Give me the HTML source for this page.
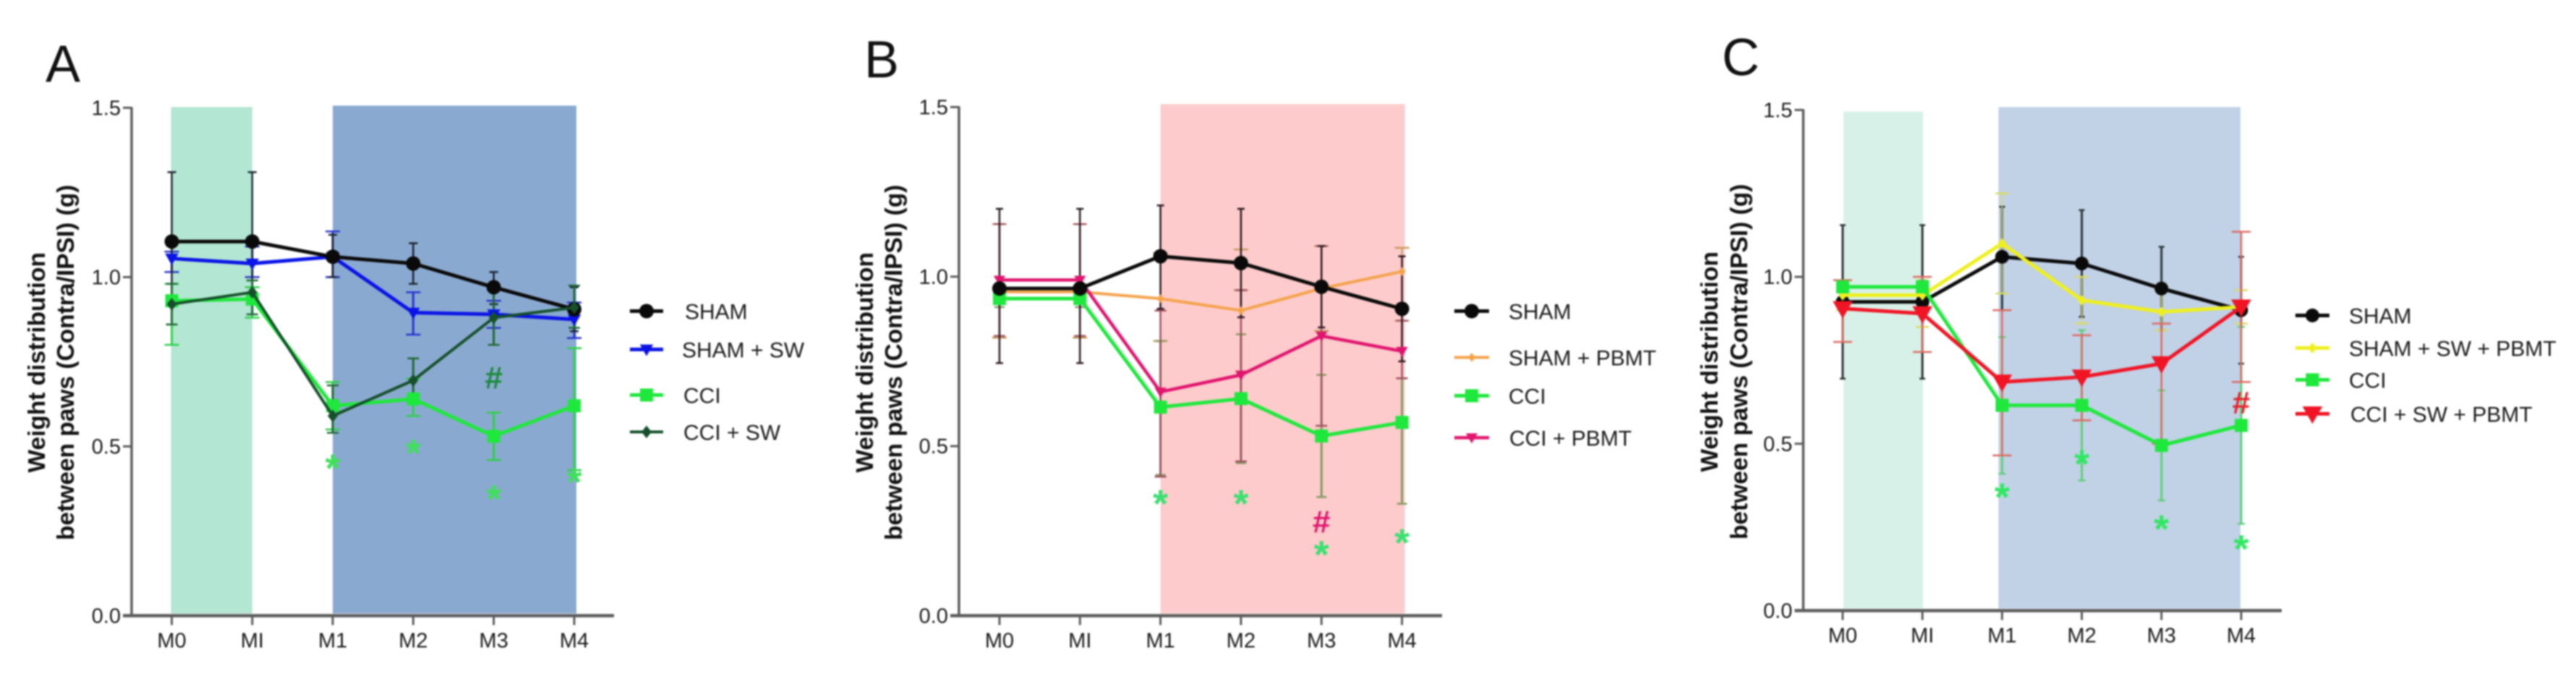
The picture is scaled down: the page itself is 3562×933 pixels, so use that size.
<!DOCTYPE html>
<html lang="en">
<head>
<meta charset="utf-8">
<title>Weight distribution between paws</title>
<style>
html,body{margin:0;padding:0;background:#fff;width:3562px;height:933px;overflow:hidden}
svg{display:block;filter:blur(1.1px)}
text{font-family:"Liberation Sans",Arial,sans-serif;fill:#1a1a1a}
.ytitle{font-size:33.5px;font-weight:bold;text-anchor:middle;fill:#111}
.tick{font-size:29px}
.legend{font-size:30px}
.letter{font-size:72px;fill:#111}
</style>
</head>
<body>
<svg id="figure" xmlns="http://www.w3.org/2000/svg" width="3562" height="933" viewBox="0 0 3562 933">
  <rect width="3562" height="933" fill="#fff"/>
  <g id="panel-a"></g>
  <g id="panel-b"></g>
  <g id="panel-c"></g>

  <text class="letter" x="63" y="113">A</text>
  <text class="letter" x="1195" y="107">B</text>
  <text class="letter" x="2381" y="104">C</text>

  <g>
    <text class="ytitle" transform="translate(62,501) rotate(-90)">Weight distribution</text>
    <text class="ytitle" transform="translate(102,501) rotate(-90)">between paws (Contra/IPSI) (g)</text>
  </g>
  <g>
    <text class="ytitle" transform="translate(1207,501) rotate(-90)">Weight distribution</text>
    <text class="ytitle" transform="translate(1247,501) rotate(-90)">between paws (Contra/IPSI) (g)</text>
  </g>
  <g>
    <text class="ytitle" transform="translate(2375,500) rotate(-90)">Weight distribution</text>
    <text class="ytitle" transform="translate(2416,500) rotate(-90)">between paws (Contra/IPSI) (g)</text>
  </g>
</svg>

<script>
// ---------- shared axis data ----------
const categories = ['M0', 'MI', 'M1', 'M2', 'M3', 'M4'];
const yTickValues = [0, 0.5, 1, 1.5];
const yTickLabels = ['0.0', '0.5', '1.0', '1.5'];

// ---------- panel A ----------
const aShamMean = [1.105, 1.105, 1.06, 1.04, 0.97, 0.905];
const aShamUpper = [1.31, 1.31, 1.125, 1.10, 1.015, 0.97];
const aShamLower = [0.93, 0.93, 1.0, 0.98, 0.92, 0.84];
const aShamSwMean = [1.055, 1.04, 1.06, 0.895, 0.89, 0.875];
const aShamSwUpper = [1.075, 1.09, 1.135, 0.955, 0.93, 0.925];
const aShamSwLower = [1.015, 1.0, 1.0, 0.83, 0.85, 0.82];
const aCciMean = [0.93, 0.935, 0.62, 0.64, 0.53, 0.62];
const aCciUpper = [0.98, 0.97, 0.69, 0.70, 0.60, 0.79];
const aCciLower = [0.80, 0.88, 0.55, 0.59, 0.46, 0.43];
const aCciSwMean = [0.92, 0.955, 0.59, 0.695, 0.88, 0.91];
const aCciSwUpper = [0.98, 0.99, 0.68, 0.76, 0.96, 0.975];
const aCciSwLower = [0.86, 0.89, 0.54, 0.63, 0.80, 0.85];
const aStarValues = [null, null, 0.46, 0.505, 0.37, 0.42];
const aHashValues = [null, null, null, null, 0.705, null];

// ---------- panel B ----------
const bShamMean = [0.965, 0.965, 1.06, 1.04, 0.97, 0.905];
const bShamUpper = [1.2, 1.2, 1.21, 1.2, 1.09, 1.06];
const bShamLower = [0.745, 0.745, 0.905, 0.88, 0.85, 0.75];
const bShamPbmtMean = [0.955, 0.955, 0.935, 0.90, 0.965, 1.015];
const bShamPbmtUpper = [1.155, 1.155, 1.07, 1.08, 1.09, 1.085];
const bShamPbmtLower = [0.82, 0.82, 0.81, 0.96, 0.84, 0.87];
const bCciMean = [0.935, 0.935, 0.615, 0.64, 0.53, 0.57];
const bCciUpper = [0.96, 0.96, 0.81, 0.83, 0.71, 0.70];
const bCciLower = [0.91, 0.91, 0.415, 0.45, 0.35, 0.33];
const bCciPbmtMean = [0.99, 0.99, 0.66, 0.71, 0.825, 0.78];
const bCciPbmtUpper = [1.155, 1.155, 0.90, 0.96, 1.09, 0.87];
const bCciPbmtLower = [0.825, 0.825, 0.41, 0.455, 0.56, 0.70];
const bStarValues = [null, null, 0.355, 0.355, 0.205, 0.24];
const bHashValues = [null, null, null, null, 0.28, null];

// ---------- panel C ----------
const cShamMean = [0.925, 0.925, 1.06, 1.04, 0.965, 0.90];
const cShamUpper = [1.155, 1.155, 1.21, 1.2, 1.09, 1.06];
const cShamLower = [0.695, 0.695, 0.90, 0.88, 0.84, 0.74];
const cYellowMean = [0.945, 0.945, 1.10, 0.93, 0.895, 0.91];
const cYellowUpper = [0.99, 0.99, 1.25, 1.0, 0.96, 0.96];
const cYellowLower = [0.90, 0.85, 0.95, 0.86, 0.84, 0.86];
const cCciMean = [0.97, 0.97, 0.615, 0.615, 0.495, 0.555];
const cCciUpper = [0.99, 0.99, 0.82, 0.84, 0.66, 0.85];
const cCciLower = [0.95, 0.95, 0.41, 0.39, 0.33, 0.26];
const cRedMean = [0.905, 0.89, 0.685, 0.70, 0.74, 0.91];
const cRedUpper = [0.99, 1.0, 0.90, 0.825, 0.86, 1.135];
const cRedLower = [0.805, 0.775, 0.465, 0.57, 0.50, 0.685];
const cStarValues = [null, null, 0.365, 0.465, 0.27, 0.21];
const cHashValues = [null, null, null, null, null, 0.625];

// ---------- series names (legend order) ----------
const aNames = ['SHAM', 'SHAM + SW', 'CCI', 'CCI + SW'];
const bNames = ['SHAM', 'SHAM + PBMT', 'CCI', 'CCI + PBMT'];
const cNames = ['SHAM', 'SHAM + SW + PBMT', 'CCI', 'CCI + SW + PBMT'];

const SVGNS = 'http://www.w3.org/2000/svg';

function el(parent, tag, attrs, name) {
  const node = document.createElementNS(SVGNS, tag);
  for (const k in attrs) node.setAttribute(k, attrs[k]);
  
  
  parent.appendChild(node);
  return node;
}

function drawMarker(parent, kind, cx, cy, s, color, name) {
  if (kind === 'circle') {
    return el(parent, 'circle', {cx: cx, cy: cy, r: s, fill: color}, name);
  }
  let pts;
  if (kind === 'square') pts = [[-s, -s], [s, -s], [s, s], [-s, s]];
  if (kind === 'diamond') pts = [[0, -s * 1.25], [s, 0], [0, s * 1.25], [-s, 0]];
  if (kind === 'triangle') pts = [[-s * 1.15, -s * 0.85], [s * 1.15, -s * 0.85], [0, s * 1.15]];
  return el(parent, 'polygon', {points: pts.map(p => (cx + p[0]) + ',' + (cy + p[1])).join(' '), fill: color}, name);
}

function drawPanel(cfg) {
  const g = document.getElementById(cfg.id);
  const step = (cfg.x4 - cfg.x0) / (categories.length - 1);
  const xScale = i => cfg.x0 + i * step;
  const yScale = v => cfg.yZero - (v / 1.5) * (cfg.yZero - cfg.yTop);

  // shaded treatment windows
  cfg.bands.forEach(b => {
    el(g, 'rect', {
      x: xScale(b.from) + b.padL,
      y: yScale(1.5) - b.over,
      width: xScale(b.to) - xScale(b.from) - b.padL + b.padR,
      height: yScale(0) - yScale(1.5) + b.over - 3,
      fill: b.color
    }, cfg.prefix + '-shaded-window-' + b.tag);
  });

  // error bars beneath the lines
  cfg.series.forEach(s => {
    const eg = el(g, 'g', {}, cfg.prefix + '-' + s.tag + '-error-bars');
    s.mean.forEach((m, i) => {
      const x = xScale(i);
      el(eg, 'line', {x1: x, x2: x, y1: yScale(s.upper[i]), y2: yScale(s.lower[i]), stroke: s.err, 'stroke-width': s.errW}, cfg.prefix + '-' + s.tag + '-error-stem');
      [s.upper[i], s.lower[i]].forEach(v => {
        el(eg, 'line', {x1: x - s.cap, x2: x + s.cap, y1: yScale(v), y2: yScale(v), stroke: s.err, 'stroke-width': 2.5}, cfg.prefix + '-' + s.tag + '-error-cap');
      });
    });
  });

  // lines + markers
  cfg.series.forEach(s => {
    el(g, 'polyline', {
      points: s.mean.map((m, i) => xScale(i) + ',' + yScale(m)).join(' '),
      fill: 'none', stroke: s.color, 'stroke-width': s.lw, 'stroke-linejoin': 'round'
    }, cfg.prefix + '-' + s.tag + '-line');
    s.mean.forEach((m, i) => {
      drawMarker(g, s.marker, xScale(i), yScale(m), s.size, s.color, cfg.prefix + '-' + s.tag + '-point-' + categories[i].toLowerCase());
    });
  });

  // significance symbols
  cfg.stars.forEach((v, i) => {
    if (v === null) return;
    const t = el(g, 'text', {x: xScale(i), y: yScale(v) + 30, 'text-anchor': 'middle', 'font-size': 54, 'font-weight': 'bold'}, cfg.prefix + '-significance-star');
    t.style.fill = cfg.starColor;
    t.textContent = '*';
  });
  cfg.hashes.forEach((v, i) => {
    if (v === null) return;
    const t = el(g, 'text', {x: xScale(i), y: yScale(v) + 16, 'text-anchor': 'middle', 'font-size': 44, 'font-weight': 'bold'}, cfg.prefix + '-significance-hash');
    t.style.fill = cfg.hashColor;
    t.textContent = '#';
  });

  // axes
  const axisColor = '#5c5c5c';
  el(g, 'line', {x1: cfg.axisX, x2: cfg.axisX, y1: yScale(1.5) - 1, y2: yScale(0) + 2, stroke: axisColor, 'stroke-width': 3.5}, cfg.prefix + '-y-axis');
  el(g, 'line', {x1: cfg.axisX - 12, x2: cfg.axisEnd, y1: yScale(0), y2: yScale(0), stroke: axisColor, 'stroke-width': 4.5}, cfg.prefix + '-x-axis');
  yTickValues.forEach((v, i) => {
    el(g, 'line', {x1: cfg.axisX - 12, x2: cfg.axisX, y1: yScale(v), y2: yScale(v), stroke: axisColor, 'stroke-width': 3}, cfg.prefix + '-y-tick');
    const t = el(g, 'text', {x: cfg.axisX - 15, y: yScale(v) + 10, 'text-anchor': 'end', class: 'tick'}, cfg.prefix + '-y-tick-label');
    t.textContent = yTickLabels[i];
  });
  categories.forEach((c, i) => {
    el(g, 'line', {x1: xScale(i), x2: xScale(i), y1: yScale(0), y2: yScale(0) + 13, stroke: axisColor, 'stroke-width': 3}, cfg.prefix + '-x-tick');
    const t = el(g, 'text', {x: xScale(i), y: yScale(0) + 44, 'text-anchor': 'middle', class: 'tick'}, cfg.prefix + '-x-tick-label');
    t.textContent = c;
  });

  // legend (each series carries its own legend slot, independent of draw order)
  cfg.series.forEach(s => {
    const lg = el(g, 'g', {}, cfg.prefix + '-legend-entry-' + s.tag);
    const ly = cfg.legendY[s.slot];
    el(lg, 'line', {x1: cfg.legendX1, x2: cfg.legendX2, y1: ly, y2: ly, stroke: s.color, 'stroke-width': s.lw}, cfg.prefix + '-legend-line');
    drawMarker(lg, s.marker, (cfg.legendX1 + cfg.legendX2) / 2, ly, s.size, s.color, cfg.prefix + '-legend-marker');
    const t = el(lg, 'text', {x: cfg.legendText + (s.legendDx || 0), y: ly + 11, class: 'legend'}, cfg.prefix + '-legend-label');
    t.textContent = cfg.names[s.slot];
  });
}

drawPanel({
  id: 'panel-a', prefix: 'a', names: aNames,
  x0: 237.5, x4: 794, yZero: 851, yTop: 149, axisX: 182, axisEnd: 849,
  legendX1: 871, legendX2: 917, legendText: 945, legendY: [430, 483, 546, 597],
  bands: [
    {tag: 'sw', from: 0, to: 1, padL: -1, padR: 0, over: 1, color: '#b3e6d3'},
    {tag: 'pbmt', from: 2, to: 5, padL: 0, padR: 3, over: 3, color: '#8aa9d0'}
  ],
  series: [
    {tag: 'cci', slot: 2, mean: aCciMean, upper: aCciUpper, lower: aCciLower, color: '#1fe83c', err: '#2fd04a', errW: 3, cap: 10, marker: 'square', size: 9, lw: 5},
    {tag: 'sham-sw', slot: 1, mean: aShamSwMean, upper: aShamSwUpper, lower: aShamSwLower, color: '#0a14e6', err: '#2a35cc', errW: 3, cap: 10, marker: 'triangle', size: 8, lw: 5, legendDx: -2},
    {tag: 'sham', slot: 0, mean: aShamMean, upper: aShamUpper, lower: aShamLower, color: '#0a0a0a', err: '#1c2430', errW: 2.5, cap: 6, marker: 'circle', size: 10, lw: 5, legendDx: 2},
    {tag: 'cci-sw', slot: 3, mean: aCciSwMean, upper: aCciSwUpper, lower: aCciSwLower, color: '#15502a', err: '#1f6a34', errW: 3, cap: 8, marker: 'diamond', size: 7, lw: 4}
  ],
  stars: aStarValues, hashes: aHashValues, starColor: '#3fe05a', hashColor: '#1c8a3c'
});

drawPanel({
  id: 'panel-b', prefix: 'b', names: bNames,
  x0: 1382, x4: 1938.6, yZero: 851, yTop: 148, axisX: 1326, axisEnd: 1994,
  legendX1: 2011, legendX2: 2059, legendText: 2086, legendY: [430, 494, 547, 605],
  bands: [
    {tag: 'pbmt', from: 2, to: 5, padL: 0, padR: 4, over: 4, color: '#fdcbcb'}
  ],
  series: [
    {tag: 'sham-pbmt', slot: 1, mean: bShamPbmtMean, upper: bShamPbmtUpper, lower: bShamPbmtLower, color: '#f4a24a', err: '#c89a60', errW: 2, cap: 10, marker: 'diamond', size: 5, lw: 4},
    {tag: 'cci', slot: 2, mean: bCciMean, upper: bCciUpper, lower: bCciLower, color: '#1fe83c', err: '#7f9a60', errW: 3, cap: 7, marker: 'square', size: 9, lw: 5},
    {tag: 'cci-pbmt', slot: 3, mean: bCciPbmtMean, upper: bCciPbmtUpper, lower: bCciPbmtLower, color: '#e0156e', err: '#a05060', errW: 2.5, cap: 8, marker: 'triangle', size: 7, lw: 4.5, legendDx: 1},
    {tag: 'sham', slot: 0, mean: bShamMean, upper: bShamUpper, lower: bShamLower, color: '#0a0a0a', err: '#2a1a20', errW: 2.5, cap: 5, marker: 'circle', size: 10, lw: 5}
  ],
  stars: bStarValues, hashes: bHashValues, starColor: '#3ae070', hashColor: '#e0156e'
});

drawPanel({
  id: 'panel-c', prefix: 'c', names: cNames,
  x0: 2548, x4: 3099, yZero: 844, yTop: 152, axisX: 2493.5, axisEnd: 3155,
  legendX1: 3174, legendX2: 3221, legendText: 3248, legendY: [436, 481, 525, 572],
  bands: [
    {tag: 'sw', from: 0, to: 1, padL: 1, padR: 1, over: -2, color: '#d8f1e8'},
    {tag: 'pbmt', from: 2, to: 5, padL: -5, padR: -1, over: 4, color: '#c1d1e6'}
  ],
  series: [
    {tag: 'sham', slot: 0, mean: cShamMean, upper: cShamUpper, lower: cShamLower, color: '#0a0a0a', err: '#2c3438', errW: 3, cap: 4, marker: 'circle', size: 9.5, lw: 5},
    {tag: 'sham-sw-pbmt', slot: 1, mean: cYellowMean, upper: cYellowUpper, lower: cYellowLower, color: '#eef01e', err: '#d8dc60', errW: 1.5, cap: 9, marker: 'diamond', size: 6, lw: 5},
    {tag: 'cci', slot: 2, mean: cCciMean, upper: cCciUpper, lower: cCciLower, color: '#1fe83c', err: '#5fcf7a', errW: 3, cap: 5, marker: 'square', size: 9, lw: 5},
    {tag: 'cci-sw-pbmt', slot: 3, mean: cRedMean, upper: cRedUpper, lower: cRedLower, color: '#f01525', err: '#dd6a60', errW: 2.5, cap: 13, marker: 'triangle', size: 12, lw: 5, legendDx: 2}
  ],
  stars: cStarValues, hashes: cHashValues, starColor: '#2fe860', hashColor: '#e8202a'
});
</script>
</body>
</html>
